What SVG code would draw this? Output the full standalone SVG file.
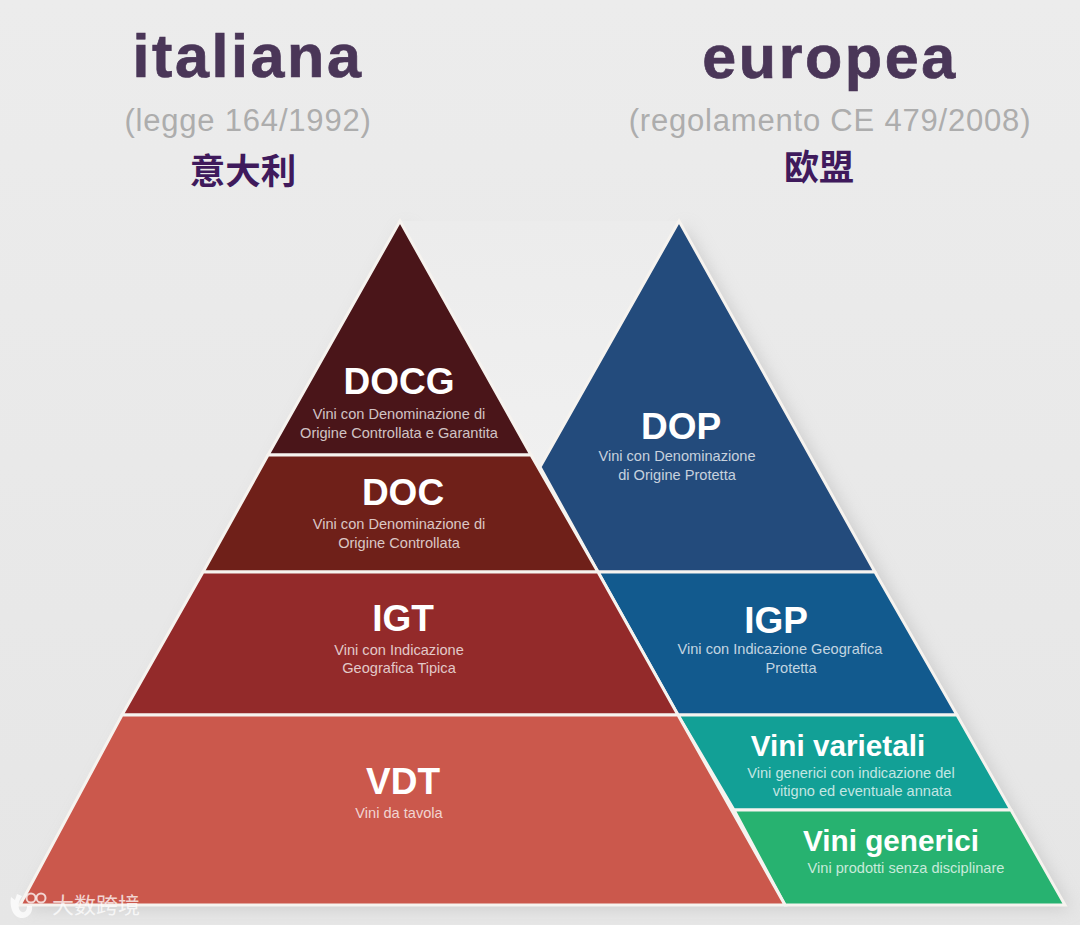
<svg xmlns="http://www.w3.org/2000/svg" width="1080" height="925" viewBox="0 0 1080 925">
<defs>
<linearGradient id="bg" x1="0" y1="0" x2="0" y2="1"><stop offset="0" stop-color="#ececec"/><stop offset="1" stop-color="#e6e6e6"/></linearGradient>
<linearGradient id="notch" x1="0" y1="0" x2="0" y2="1"><stop offset="0" stop-color="#ececec"/><stop offset="1" stop-color="#f0f0f0"/></linearGradient>
<filter id="sh" x="-10%" y="-10%" width="120%" height="120%"><feGaussianBlur stdDeviation="8"/></filter>
</defs>
<style>
text{font-family:"Liberation Sans",Arial,sans-serif;text-anchor:middle}
.h{font-weight:700;fill:#fff;font-size:37px}
.v{font-size:29.7px}
.s{fill:#fff;fill-opacity:.75;font-size:14.6px}
.t{font-weight:700;font-size:61px;letter-spacing:2.6px;fill:#4a3658;stroke:#4a3658;stroke-width:.7px}
.l{fill:#adadad;font-size:31px;letter-spacing:.8px}
.c{font-family:"Noto Sans CJK SC","Liberation Sans",sans-serif;font-weight:700;fill:#3f1a5c}
.w{stroke:#f6f3ef;stroke-width:3;stroke-linejoin:miter}
</style>
<rect width="1080" height="925" fill="url(#bg)"/>
<path d="M400 221 540 470 679 221 1065 905 20 905Z" fill="#bdbdbd" opacity=".6" filter="url(#sh)" transform="translate(6 4)"/>
<path d="M400 221 540 470 679 221 Z" fill="url(#notch)"/>
<g id="titles">
<text class="t" x="248" y="77">italiana</text>
<text class="t" x="830" y="78">europea</text>
<text class="l" x="248" y="131">(legge 164/1992)</text>
<text class="l" x="830" y="131">(regolamento CE 479/2008)</text>
<text class="c" x="243" y="184" font-size="35.5">意大利</text>
<text class="c" x="819" y="180" font-size="35">欧盟</text>
</g>
<g id="node-dop"><path class="w" d="M679 221 875 572 598 572 540 467Z" fill="#234b7c"/>
<text class="h" x="681" y="439">DOP</text><text class="s" x="677" y="461">Vini con Denominazione</text><text class="s" x="677" y="480">di Origine Protetta</text></g>
<g id="node-igp"><path class="w" d="M598 572 875 572 957 715 678 715Z" fill="#125a8e"/>
<text class="h" x="776" y="633">IGP</text><text class="s" x="780" y="654">Vini con Indicazione Geografica</text><text class="s" x="791" y="673">Protetta</text></g>
<g id="node-varietali"><path class="w" d="M678 715 957 715 1011 810 734 810Z" fill="#12a096"/>
<text class="h v" x="838" y="756">Vini varietali</text><text class="s" x="851" y="778">Vini generici con indicazione del</text><text class="s" x="862" y="796">vitigno ed eventuale annata</text></g>
<g id="node-generici"><path class="w" d="M734 810 1011 810 1065 905 785 905Z" fill="#27b270"/>
<text class="h v" x="891" y="851">Vini generici</text><text class="s" x="906" y="873">Vini prodotti senza disciplinare</text></g>
<g id="node-docg"><path class="w" d="M400 221 531 455 268 455Z" fill="#4a1519"/>
<text class="h" x="399" y="394">DOCG</text><text class="s" x="399" y="419">Vini con Denominazione di</text><text class="s" x="399" y="438">Origine Controllata e Garantita</text></g>
<g id="node-doc"><path class="w" d="M268 455 531 455 598 572 203 572Z" fill="#6f2019"/>
<text class="h" x="403" y="505">DOC</text><text class="s" x="399" y="529">Vini con Denominazione di</text><text class="s" x="399" y="548">Origine Controllata</text></g>
<g id="node-igt"><path class="w" d="M203 572 598 572 678 715 122 715Z" fill="#932a2a"/>
<text class="h" x="403" y="631">IGT</text><text class="s" x="399" y="655">Vini con Indicazione</text><text class="s" x="399" y="673">Geografica Tipica</text></g>
<g id="node-vdt"><path class="w" d="M122 715 678 715 785 905 20 905Z" fill="#cb584c"/>
<text class="h" x="403" y="794">VDT</text><text class="s" x="399" y="818">Vini da tavola</text></g>
<g id="watermark" fill="#fff" fill-opacity=".75">
<path d="M11 897C9 908 14 919 23 918 30 917 33 911 32 906L27 906C27 910 25 913 22 912 18 911 17 903 22 896L17 894 15 900Z"/>
<circle cx="31" cy="898" r="4.5" fill="none" stroke="#fff" stroke-opacity=".75" stroke-width="2"/><circle cx="41" cy="898" r="4.5" fill="none" stroke="#fff" stroke-opacity=".75" stroke-width="2"/>
<text x="96" y="913" style="font-family:'Noto Sans CJK SC',sans-serif;font-size:22px">大数跨境</text></g>
</svg>
